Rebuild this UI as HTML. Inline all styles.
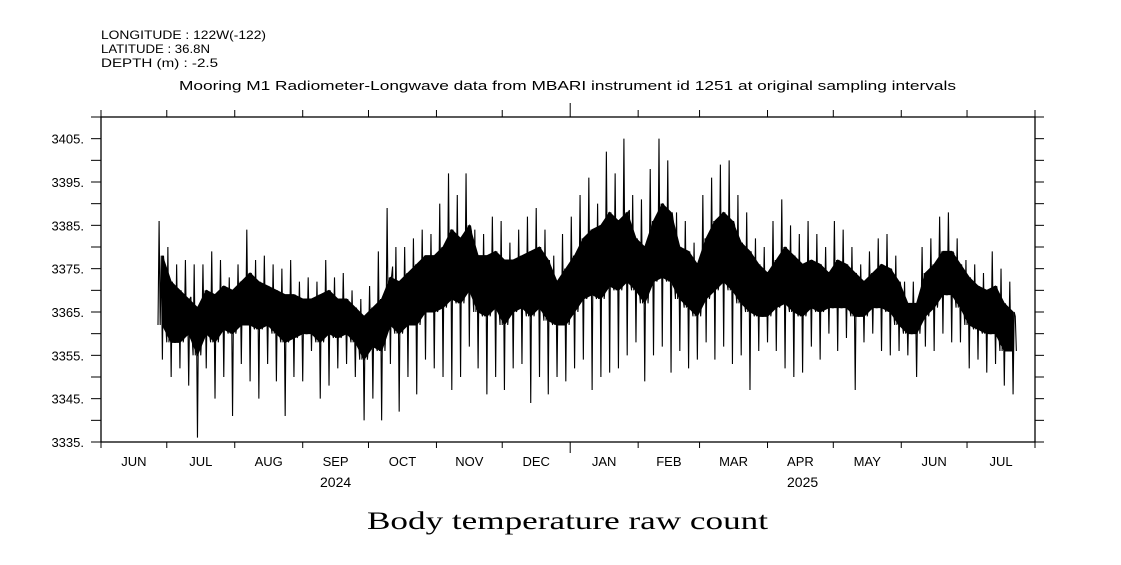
<!DOCTYPE html>
<html><head><meta charset="utf-8"><style>
body{margin:0;background:#fff;}
svg text{font-family:"Liberation Sans",sans-serif;fill:#000;}
</style></head><body>
<svg id="chart" width="1121" height="560" xmlns="http://www.w3.org/2000/svg">
<g font-size="12">
<text x="101" y="39" textLength="165" lengthAdjust="spacingAndGlyphs">LONGITUDE : 122W(-122)</text>
<text x="101" y="53" textLength="109" lengthAdjust="spacingAndGlyphs">LATITUDE : 36.8N</text>
<text x="101" y="67" textLength="117" lengthAdjust="spacingAndGlyphs">DEPTH (m) : -2.5</text>
</g>
<text x="179" y="90" textLength="777" lengthAdjust="spacingAndGlyphs" font-size="13">Mooring M1 Radiometer-Longwave data from MBARI instrument id 1251 at original sampling intervals</text>
<text x="367" y="529" textLength="401" lengthAdjust="spacingAndGlyphs" font-size="25" style="font-family:'Liberation Serif',serif">Body temperature raw count</text>
<g id="axes"></g>
<g id="series"></g>
</svg>
<script>
const yTicks=[3335,3345,3355,3365,3375,3385,3395,3405];
const monthLabels=["JUN","JUL","AUG","SEP","OCT","NOV","DEC","JAN","FEB","MAR","APR","MAY","JUN","JUL"];
const monthStartDays=[0,30,61,92,122,153,183,214,245,273,304,334,365,395,426];
const yearLabels=["2024","2025"];
const binStartDay=26;
const binDays=4;
const hiVals=[3386,3380,3376,3377,3376,3376,3379,3377,3373,3376,3384,3377,3378,3376,3375,3377,3372,3373,3372,3377,3373,3374,3370,3368,3371,3379,3389,3380,3380,3382,3384,3383,3390,3397,3392,3397,3384,3383,3387,3386,3381,3384,3387,3389,3384,3378,3383,3387,3392,3396,3390,3402,3397,3405,3392,3391,3398,3405,3400,3388,3386,3381,3392,3396,3399,3400,3392,3388,3382,3380,3386,3391,3385,3383,3386,3383,3380,3386,3384,3380,3376,3379,3382,3383,3378,3372,3372,3380,3382,3387,3388,3382,3377,3376,3374,3379,3375,3372];
const loVals=[3354,3350,3352,3348,3336,3352,3345,3350,3341,3353,3349,3345,3353,3349,3341,3350,3349,3356,3345,3348,3352,3353,3350,3340,3345,3340,3353,3342,3350,3346,3354,3352,3350,3347,3350,3357,3352,3346,3350,3347,3352,3353,3344,3350,3346,3350,3349,3352,3354,3347,3350,3351,3352,3355,3358,3349,3355,3357,3351,3356,3352,3354,3358,3354,3357,3353,3355,3347,3356,3358,3356,3352,3350,3351,3357,3354,3360,3356,3359,3347,3358,3360,3356,3355,3356,3355,3350,3357,3356,3360,3358,3358,3352,3354,3351,3353,3348,3346];
const q3Vals=[3378,3372,3370,3368,3366,3370,3369,3371,3370,3372,3374,3372,3371,3370,3369,3369,3368,3368,3369,3370,3368,3368,3366,3364,3366,3368,3373,3372,3374,3376,3378,3378,3380,3384,3382,3385,3378,3378,3379,3377,3377,3378,3379,3380,3377,3372,3375,3378,3382,3384,3385,3388,3386,3388,3382,3380,3386,3390,3388,3380,3379,3376,3382,3386,3388,3386,3381,3379,3376,3374,3377,3380,3378,3376,3377,3376,3374,3377,3376,3374,3372,3374,3376,3375,3372,3367,3367,3374,3376,3379,3379,3376,3373,3371,3370,3371,3367,3365];
const q1Vals=[3362,3358,3358,3360,3355,3360,3358,3361,3360,3362,3362,3361,3362,3360,3358,3359,3360,3360,3358,3360,3359,3360,3358,3354,3357,3356,3362,3360,3362,3362,3365,3365,3366,3368,3367,3370,3365,3364,3366,3362,3365,3366,3364,3366,3363,3362,3362,3365,3368,3369,3368,3371,3370,3372,3370,3367,3372,3373,3372,3368,3366,3364,3368,3370,3372,3370,3367,3365,3364,3364,3366,3367,3365,3364,3366,3365,3366,3366,3366,3364,3364,3366,3366,3365,3362,3360,3360,3364,3366,3369,3369,3366,3362,3361,3360,3360,3356,3356];

const L=101,R=1035,T=117,B=442,Y0=3335,Y1=3410,D0=0,D1=426;
const xs=d=>L+(d-D0)/(D1-D0)*(R-L);
const ys=v=>B-(v-Y0)/(Y1-Y0)*(B-T);
const NS="http://www.w3.org/2000/svg";
const axes=document.getElementById('axes'),ser=document.getElementById('series');
function mk(tag,at,parent){const e=document.createElementNS(NS,tag);for(const k in at)e.setAttribute(k,at[k]);parent.appendChild(e);return e;}

let frame=mk('rect',{x:L,y:T,width:R-L,height:B-T,fill:'none',stroke:'#000','stroke-width':1.3},axes);


for(let v=Y0;v<=Y1;v+=5){
  const y=ys(v);
  let t1=mk('line',{x1:L-10,x2:L,y1:y,y2:y,stroke:'#000'},axes);
  
  
  let t2=mk('line',{x1:R,x2:R+9,y1:y,y2:y,stroke:'#000'},axes);
  
  
}
yTicks.forEach(v=>{
  let t=mk('text',{x:84,y:ys(v)+5,'text-anchor':'end','font-size':13},axes);
  t.textContent=v+'.';
  
  
});
monthStartDays.forEach((d,i)=>{
  const x=xs(d);const big=(d===214);
  let b=mk('line',{x1:x,x2:x,y1:B,y2:B+(big?11:6),stroke:'#000'},axes);
  
  
  let t=mk('line',{x1:x,x2:x,y1:T-(big?14:7),y2:T,stroke:'#000'},axes);
  
  
  if(i<monthLabels.length){
    let lb=mk('text',{x:(xs(d)+xs(monthStartDays[i+1]))/2,y:466,'text-anchor':'middle','font-size':13},axes);
    lb.textContent=monthLabels[i];
    
    
  }
});
[[0,214],[214,426]].forEach((r,i)=>{
  let t=mk('text',{x:(xs(r[0])+xs(r[1]))/2,y:487,'text-anchor':'middle','font-size':14},axes);
  t.textContent=yearLabels[i];
  
  
});

// core band
const cx=i=>xs(binStartDay+binDays*i+binDays/2);
let pts=[];
q3Vals.forEach((v,i)=>pts.push(cx(i)+','+ys(v)));
for(let i=q1Vals.length-1;i>=0;i--)pts.push(cx(i)+','+ys(q1Vals[i]));
let band=mk('polygon',{points:pts.join(' '),fill:'#000',stroke:'#000','stroke-width':1},ser);


// zigzag trace within each bin: q1 -> hi -> q1 -> q3 -> lo -> q3
let zz=[];
hiVals.forEach((h,i)=>{
  const x0=xs(binStartDay+binDays*i),w=xs(binDays)-xs(0);
  const seq=[q1Vals[i],h,q1Vals[i],q3Vals[i],loVals[i],q3Vals[i],(q1Vals[i]+h)/2,q1Vals[i]];
  seq.forEach((v,k)=>zz.push((x0+w*k/seq.length).toFixed(2)+','+ys(v).toFixed(2)));
});
let trace=mk('polyline',{points:zz.join(' '),fill:'none',stroke:'#000','stroke-width':1.1},ser);


</script>
</body></html>
